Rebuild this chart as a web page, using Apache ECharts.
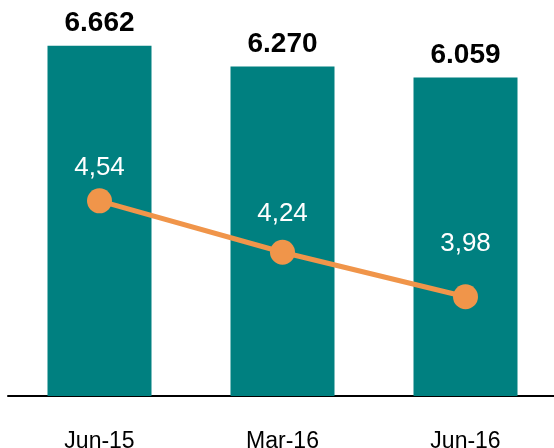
<!DOCTYPE html>
<html>
<head>
<meta charset="utf-8">
<script src="https://cdn.jsdelivr.net/npm/echarts@6/dist/echarts.min.js"></script>
<style>
  html, body { margin: 0; padding: 0; background: #fff; }
  #chart { width: 554px; height: 448px; }
</style>
</head>
<body>
<div id="chart"></div>
<script>
var categories = ["Jun-15", "Mar-16", "Jun-16"];
var barValues = [6662, 6270, 6059];
var lineValues = [4.54, 4.24, 3.98];

// label gap above each orange dot (the source places them unevenly)
var labelGap = [8, 13, 27];

var chart = echarts.init(document.getElementById("chart"));

var option = {
  animation: false,
  grid: { left: 8, right: -3, top: 28, bottom: 52, outerBoundsMode: "none" },
  xAxis: {
    type: "category",
    data: categories,
    axisLine: { lineStyle: { color: "#000", width: 2 } },
    axisTick: { show: false },
    axisLabel: {
      color: "#000",
      fontSize: 23,
      fontFamily: "Liberation Sans",
      margin: 34
    }
  },
  yAxis: [
    { type: "value", min: 0, max: 7000, show: false, splitLine: { show: false } },
    { type: "value", min: 3.4, max: 5.55, show: false, splitLine: { show: false } }
  ],
  series: [
    {
      type: "bar",
      data: barValues,
      barWidth: 104,
      itemStyle: { color: "#008080" },
      label: {
        show: true,
        position: "top",
        distance: 8,
        color: "#000",
        fontSize: 28,
        fontWeight: "bold",
        fontFamily: "Liberation Sans",
        formatter: function (p) {
          return (p.value / 1000).toFixed(3);
        }
      }
    },
    {
      type: "line",
      yAxisIndex: 1,
      data: lineValues.map(function (v, i) {
        return { value: v, label: { distance: labelGap[i] } };
      }),
      symbol: "circle",
      symbolSize: 25,
      lineStyle: { color: "#F0954A", width: 5 },
      itemStyle: { color: "#F0954A" },
      label: {
        show: true,
        position: "top",
        color: "#fff",
        fontSize: 26,
        fontFamily: "Liberation Sans",
        formatter: function (p) {
          return p.value.toFixed(2).replace(".", ",");
        }
      }
    }
  ]
};

chart.setOption(option);
</script>
</body>
</html>
